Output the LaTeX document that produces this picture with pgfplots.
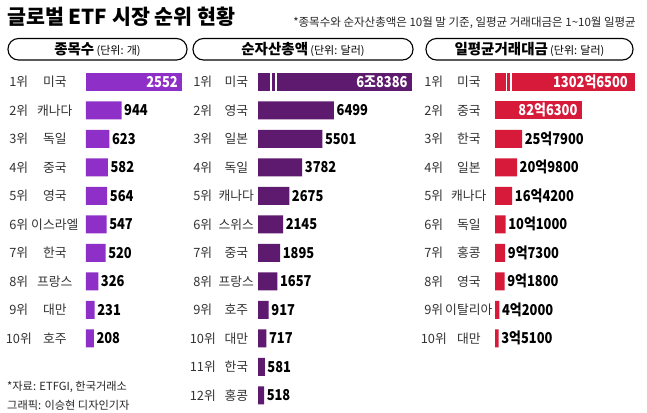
\documentclass[border=0pt]{standalone}
\usepackage{pgfplots}
\pgfplotsset{compat=1.18}
\usepackage{fontspec}
\setmainfont{Noto Sans CJK KR}
\newfontfamily\numfont{Noto Sans CJK KR}[FakeStretch=0.86]
\definecolor{cA}{HTML}{8E30C8}
\definecolor{cB}{HTML}{5E1A6E}
\definecolor{cC}{HTML}{D7193A}
\definecolor{lab}{HTML}{333333}
\newcommand\labA[2]{\makebox[26pt][c]{#1}\makebox[46pt][c]{#2}\hspace*{8pt}}
\newcommand\labB[2]{\makebox[25pt][c]{#1}\makebox[42pt][c]{#2}\hspace*{0.5pt}}
\newcommand\labC[2]{\makebox[20pt][c]{#1}\makebox[50pt][c]{#2}\hspace*{1pt}}
\newcommand\numf{\numfont\bfseries\fontsize{15}{15}\selectfont}
\pgfplotsset{
  panel/.style={
    xbar, scale only axis, y dir=reverse, bar width=18pt, bar shift=0pt,
    axis line style={draw=none}, major tick length=0pt, xtick=\empty,
    ymin=0.5, xmin=0, enlargelimits=false, clip=false,
    yticklabel style={inner sep=0pt, anchor=east, font=\fontsize{12.8}{13}\selectfont, text=lab},
    point meta=explicit symbolic,
  },
  outlbl/.style={draw=none, nodes near coords,
    every node near coord/.append style={anchor=west, inner sep=0pt, xshift=2.5pt, font=\numf, text=black}},
  inlbl/.style={draw=none, nodes near coords,
    every node near coord/.append style={anchor=east, inner sep=0pt, xshift=-4pt, font=\numf, text=white}},
}
\begin{document}
\begin{tikzpicture}
\fill[white] (0,0) rectangle (647pt,-412pt);
\path[use as bounding box] (0,0) rectangle (647pt,-412pt);
% title and note
\node[anchor=west, inner sep=0pt] at (7pt,-16.5pt) {\fontsize{20.6}{21}\bfseries 글로벌 ETF 시장 순위 현황};
\node[anchor=east, inner sep=0pt, text=black!85] at (636pt,-23pt) {\fontsize{11.5}{12}\selectfont *종목수와 순자산총액은 10월 말 기준, 일평균 거래대금은 1\textasciitilde10월 일평균};
% header pills
\draw[line width=1.1pt, rounded corners=10.5pt] (8pt,-38.5pt) rectangle (187pt,-60pt);
\draw[line width=1.1pt, rounded corners=10.5pt] (193pt,-38.5pt) rectangle (413pt,-60pt);
\draw[line width=1.1pt, rounded corners=10.5pt] (426pt,-38.5pt) rectangle (633pt,-60pt);
\node[inner sep=0pt] at (97.5pt,-49.5pt) {{\fontsize{14.5}{15}\bfseries 종목수} {\fontsize{11}{11}\selectfont (단위: 개)}};
\node[inner sep=0pt] at (303pt,-49.5pt) {{\fontsize{14.5}{15}\bfseries 순자산총액} {\fontsize{11}{11}\selectfont (단위: 달러)}};
\node[inner sep=0pt] at (529.5pt,-49.5pt) {{\fontsize{14.5}{15}\bfseries 일평균거래대금} {\fontsize{11}{11}\selectfont (단위: 달러)}};
% footer
\node[anchor=west, inner sep=0pt, text=black!85] at (7pt,-387pt) {\fontsize{11.2}{12}\selectfont *자료: ETFGI, 한국거래소};
\node[anchor=west, inner sep=0pt, text=black!85] at (7pt,-405pt) {\fontsize{11.2}{12}\selectfont 그래픽: 이승현 디자인기자};

% Panel 1: number of ETFs
\begin{axis}[panel, at={(86pt,-67.5pt)}, anchor=north west,
  width=96pt, height=285pt, xmax=2552, ymax=10.5,
  ytick={1,...,10},
  yticklabels={\labA{1위}{미국},\labA{2위}{캐나다},\labA{3위}{독일},\labA{4위}{중국},\labA{5위}{영국},
               \labA{6위}{이스라엘},\labA{7위}{한국},\labA{8위}{프랑스},\labA{9위}{대만},\labA{10위}{호주}}]
\addplot[fill=cA, inlbl] coordinates {(2552,1) [2552]};
\addplot[fill=cA, outlbl] coordinates {(944,2) [944] (623,3) [623] (582,4) [582] (564,5) [564]
  (547,6) [547] (520,7) [520] (326,8) [326] (231,9) [231] (208,10) [208]};
\end{axis}

% Panel 2: net assets (hundred million USD); bar 1 drawn broken
\begin{axis}[panel, at={(258pt,-67.5pt)}, anchor=north west,
  width=153.7pt, height=342pt, xmax=13148, ymax=12.5,
  ytick={1,...,12},
  yticklabels={\labB{1위}{미국},\labB{2위}{영국},\labB{3위}{일본},\labB{4위}{독일},\labB{5위}{캐나다},
               \labB{6위}{스위스},\labB{7위}{중국},\labB{8위}{프랑스},\labB{9위}{호주},\labB{10위}{대만},
               \labB{11위}{한국},\labB{12위}{홍콩}}]
\addplot[fill=cB, inlbl] coordinates {(13148,1) [6조8386]};
\addplot[fill=cB, outlbl] coordinates {(6499,2) [6499] (5501,3) [5501] (3782,4) [3782] (2675,5) [2675]
  (2145,6) [2145] (1895,7) [1895] (1657,8) [1657] (917,9) [917] (717,10) [717] (581,11) [581] (518,12) [518]};
\draw[white, line width=1.1pt] (axis cs:1112,0.62) -- (axis cs:1112,1.38);
\draw[white, line width=1.1pt] (axis cs:1540,0.62) -- (axis cs:1540,1.38);
\end{axis}

% Panel 3: average daily trading value (hundred million USD); bar 1 drawn broken
\begin{axis}[panel, at={(495pt,-67.5pt)}, anchor=north west,
  width=140pt, height=285pt, xmax=133.5, ymax=10.5,
  ytick={1,...,10},
  yticklabels={\labC{1위}{미국},\labC{2위}{중국},\labC{3위}{한국},\labC{4위}{일본},\labC{5위}{캐나다},
               \labC{6위}{독일},\labC{7위}{홍콩},\labC{8위}{영국},\labC{9위}{이탈리아},\labC{10위}{대만}}]
\addplot[fill=cC, inlbl, every node near coord/.append style={xshift=-3pt}] coordinates {(133.5,1) [1302억6500]};
\addplot[fill=cC, inlbl] coordinates {(82.63,2) [82억6300]};
\addplot[fill=cC, outlbl] coordinates {(25.79,3) [25억7900] (20.98,4) [20억9800] (16.42,5) [16억4200]
  (10.10,6) [10억1000] (9.73,7) [9억7300] (9.18,8) [9억1800] (4.20,9) [4억2000] (3.51,10) [3억5100]};
\draw[white, line width=1.1pt] (axis cs:11.15,0.62) -- (axis cs:11.15,1.38);
\draw[white, line width=1.1pt] (axis cs:15.25,0.62) -- (axis cs:15.25,1.38);
\end{axis}
\end{tikzpicture}
\end{document}
